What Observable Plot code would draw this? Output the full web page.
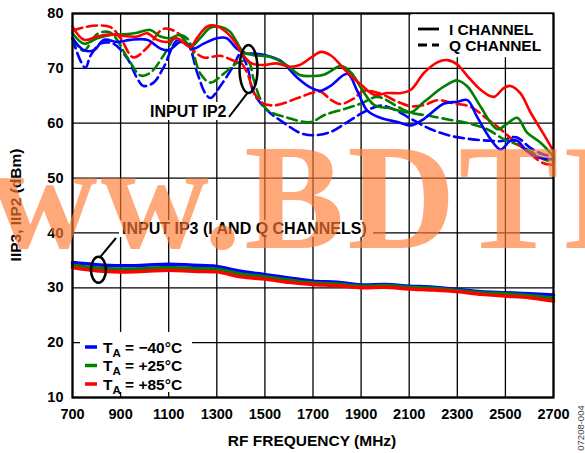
<!DOCTYPE html>
<html><head><meta charset="utf-8">
<script src="https://cdn.jsdelivr.net/npm/d3@7"></script>
<script src="https://cdn.jsdelivr.net/npm/@observablehq/plot@0.6"></script>
<style>
html,body{margin:0;padding:0;background:#fff;}
#chart{position:relative;width:585px;height:453px;overflow:hidden;}
</style></head><body><div id="chart"></div>
<script>
const xTicks = [700, 900, 1100, 1300, 1500, 1700, 1900, 2100, 2300, 2500, 2700];
const yTicks = [10, 20, 30, 40, 50, 60, 70, 80];
const temps = ["-40", "+25", "+85"];
const tempColors = ["#0000ff", "#008000", "#ff0000"];
const legendTemps = ["\u221240\u00b0C", "+25\u00b0C", "+85\u00b0C"];

// IIP3 (I and Q channels)
const ip3Freq = [700,800,900,1000,1100,1200,1300,1400,1500,1600,1700,1800,1900,2000,2100,2200,2300,2400,2500,2600,2700];
const ip3M40 = [34.6,34.2,34.0,34.1,34.3,34.1,33.9,33.0,32.4,31.8,31.2,31.0,30.5,30.6,30.3,30.1,29.7,29.3,29.1,28.9,28.7];
const ip3P25 = [34.1,33.6,33.4,33.5,33.7,33.5,33.4,32.5,32.0,31.4,30.9,30.7,30.3,30.4,30.1,29.9,29.5,29.1,28.9,28.6,28.1];
const ip3P85 = [33.7,33.1,32.9,33.0,33.2,33.0,32.9,32.0,31.6,31.0,30.6,30.4,30.0,30.1,29.8,29.6,29.3,28.8,28.5,28.2,27.6];

// IIP2, I channel
const iM40Freq = [700,748,789,831,886,941,1010,1066,1100,1148,1176,1203,1245,1300,1341,1383,1420,1455,1510,1565,1635,1690,1731,1773,1843,1884,1926,1980,2052,2107,2162,2245,2300,2342,2383,2438,2480,2521,2549,2590,2645,2700];
const iM40 = [75.5,73.3,73.3,75.2,74.8,75.2,75.2,73.6,73.3,74.8,74.5,73.6,74.5,75.5,75.5,73.6,72.7,72.7,72.3,71.4,68.3,66.5,65.9,66.8,69.0,65.9,62.3,61.0,60.2,59.6,60.8,63.6,63.9,64.2,61.1,57.1,55.2,56.8,56.8,54.9,53.7,53.4];
const iP25Freq = [700,748,803,859,914,969,1024,1066,1107,1148,1190,1231,1272,1314,1355,1383,1410,1452,1521,1590,1645,1693,1748,1817,1859,1900,1955,2024,2107,2162,2245,2300,2342,2397,2466,2507,2549,2590,2645,2700];
const iP25 = [76.4,74.5,75.5,76.1,76.2,76.5,77.0,75.8,75.5,76.1,73.9,75.5,77.4,77.6,76.7,74.8,73.0,72.4,72.1,70.6,68.8,68.6,68.9,70.4,69.2,66.4,63.3,62.7,62.0,63.9,66.7,67.8,66.7,63.0,58.9,59.9,61.0,58.3,56.5,54.0];
const iP85Freq = [700,748,803,859,914,969,1010,1052,1093,1134,1190,1217,1259,1290,1328,1369,1410,1445,1493,1548,1603,1645,1693,1734,1776,1831,1900,1955,2010,2066,2107,2162,2217,2259,2300,2342,2397,2452,2493,2521,2562,2604,2659,2700];
const iP85 = [77.6,75.2,75.8,76.2,75.9,75.8,76.4,75.2,74.8,75.5,73.9,75.5,77.6,77.8,77.0,75.2,72.4,70.9,70.6,70.9,70.3,70.6,72.0,73.0,72.3,69.8,67.0,65.2,65.5,65.5,66.1,69.2,71.1,71.5,70.7,68.6,66.1,64.8,66.4,66.8,65.5,62.0,58.0,54.9];

// IIP2, Q channel
const qM40Freq = [700,733,754,775,816,870,928,970,995,1037,1078,1136,1178,1220,1253,1274,1315,1370,1399,1428,1453,1511,1578,1648,1702,1773,1843,1910,1983,2038,2107,2190,2272,2355,2438,2493,2521,2549,2604,2659,2700];
const qM40 = [75.4,71.4,70.1,72.3,74.5,74.5,71.8,68.1,66.8,67.4,70.1,75.1,74.5,69.0,65.4,64.6,66.8,70.5,72.7,70.1,65.6,62.3,60.1,58.2,57.8,58.4,60.2,62.0,63.2,62.5,60.8,58.9,57.7,57.1,56.8,56.8,57.4,57.4,55.5,54.3,54.0];
const qP25Freq = [700,746,804,858,928,983,1024,1078,1136,1178,1232,1274,1328,1386,1430,1453,1480,1510,1594,1690,1748,1831,1900,1969,2052,2107,2176,2272,2355,2424,2493,2549,2604,2659,2700];
const qP25 = [75.6,73.2,76.3,76.5,72.0,68.7,69.2,72.3,76.0,75.4,69.0,67.4,69.0,71.0,71.3,68.0,64.5,62.4,61.0,60.2,61.5,62.6,63.6,64.8,63.0,61.9,61.4,60.6,59.9,58.9,57.1,56.1,54.9,53.4,53.0];
const qP85Freq = [700,750,804,858,900,953,1011,1078,1136,1190,1245,1315,1370,1400,1430,1452,1493,1548,1631,1702,1735,1773,1814,1870,1910,1980,2052,2107,2162,2217,2286,2355,2424,2480,2535,2590,2659,2700];
const qP85 = [76.9,77.5,77.8,77.5,75.5,72.0,73.8,77.2,76.5,73.8,72.0,72.3,71.4,71.0,68.8,65.8,63.6,63.3,64.5,65.6,65.7,64.3,63.5,64.5,65.9,65.4,63.9,63.1,63.3,64.2,63.6,63.0,60.8,58.9,56.8,54.9,52.7,52.4];

function rows(freq, vals, temp) { return freq.map((f, i) => ({f, v: vals[i], temp})); }
const ip3Rows = [...rows(ip3Freq, ip3M40, "-40"), ...rows(ip3Freq, ip3P25, "+25"), ...rows(ip3Freq, ip3P85, "+85")];
const iRows = [...rows(iM40Freq, iM40, "-40"), ...rows(iP25Freq, iP25, "+25"), ...rows(iP85Freq, iP85, "+85")];
const qRows = [...rows(qM40Freq, qM40, "-40"), ...rows(qP25Freq, qP25, "+25"), ...rows(qP85Freq, qP85, "+85")];

const FONT = "'Liberation Sans', Arial, Helvetica, sans-serif";
const plot = Plot.plot({
  width: 585, height: 453,
  marginLeft: 72, marginRight: 32, marginTop: 13, marginBottom: 56,
  x: {domain: [700, 2700], ticks: xTicks, label: null, tickFormat: d => String(d)},
  y: {domain: [10, 80], ticks: yTicks, label: null},
  color: {domain: temps, range: tempColors},
  style: {fontFamily: FONT, fontWeight: "bold", fontSize: "14.5px", color: "#000", background: "#fff"},
  marks: [
    Plot.gridX(xTicks, {stroke: "#000", strokeOpacity: 1, strokeWidth: 1.3}),
    Plot.gridY(yTicks, {stroke: "#000", strokeOpacity: 1, strokeWidth: 1.3}),
    Plot.line(ip3Rows, {x: "f", y: "v", z: "temp", stroke: "temp", strokeWidth: 3.5, curve: "catmull-rom"}),
    Plot.line(qRows, {x: "f", y: "v", z: "temp", stroke: "temp", strokeWidth: 2.6, strokeDasharray: "10,5", curve: "catmull-rom"}),
    Plot.line(iRows, {x: "f", y: "v", z: "temp", stroke: "temp", strokeWidth: 2.6, curve: "catmull-rom"}),
    Plot.frame({stroke: "#000", strokeWidth: 2.2}),
    Plot.axisX(xTicks, {tickSize: 0, tickPadding: 11, fontSize: 14.5, tickFormat: d => String(d)}),
    Plot.axisY(yTicks, {tickSize: 0, tickPadding: 9, fontSize: 14.5})
  ]
});
document.getElementById("chart").appendChild(plot);

const svg = d3.select(plot);
const sx = plot.scale("x"), sy = plot.scale("y");
const g = svg.append("g").attr("font-family", FONT).attr("font-weight", "bold").attr("fill", "#000").attr("text-anchor", "start");

// titles
g.append("text").attr("x", 312).attr("y", 446).attr("text-anchor", "middle").attr("font-size", 15.5).text("RF FREQUENCY (MHz)");
g.append("text").attr("transform", "translate(21,205) rotate(-90)").attr("text-anchor", "middle").attr("font-size", 15.5).text("IIP3, IIP2 (dBm)");
g.append("text").attr("transform", "translate(584,428) rotate(-90)").attr("text-anchor", "middle").attr("font-size", 9.5).attr("font-weight", "normal").attr("fill", "#444").text("07208-004");

// annotation: INPUT IP2
const e2x = sx.apply(1434), e2y = sy.apply(69.8);
g.append("rect").attr("x", 147).attr("y", 102).attr("width", 84).attr("height", 18).attr("fill", "#fff");
g.append("text").attr("x", 150).attr("y", 117).attr("font-size", 16).text("INPUT IP2");
g.append("line").attr("x1", 229).attr("y1", 117).attr("x2", e2x - 1).attr("y2", e2y + 24).attr("stroke", "#000").attr("stroke-width", 2);
g.append("ellipse").attr("cx", e2x).attr("cy", e2y).attr("rx", 9).attr("ry", 24).attr("fill", "none").attr("stroke", "#000").attr("stroke-width", 2.5);

// annotation: INPUT IP3
const e3x = sx.apply(810), e3y = sy.apply(33.2);
g.append("rect").attr("x", 119).attr("y", 220).attr("width", 254).attr("height", 17).attr("fill", "#fff");
g.append("text").attr("x", 122).attr("y", 234).attr("font-size", 16).text("INPUT IP3 (I AND Q CHANNELS)");
g.append("line").attr("x1", 116).attr("y1", 238).attr("x2", e3x + 2).attr("y2", e3y - 13).attr("stroke", "#000").attr("stroke-width", 2);
g.append("ellipse").attr("cx", e3x).attr("cy", e3y).attr("rx", 7.5).attr("ry", 13).attr("fill", "none").attr("stroke", "#000").attr("stroke-width", 2.5);

// legend: channel (top right)
g.append("rect").attr("x", 411).attr("y", 14.2).attr("width", 141).attr("height", 43).attr("fill", "#fff");
const chan = [{label: "I CHANNEL", dash: null, y: 29}, {label: "Q CHANNEL", dash: "9,5", y: 45}];
chan.forEach(c => {
  g.append("line").attr("x1", 418).attr("x2", 439).attr("y1", c.y).attr("y2", c.y).attr("stroke", "#000").attr("stroke-width", 2.8).attr("stroke-dasharray", c.dash);
  g.append("text").attr("x", 449).attr("y", c.y + 5.5).attr("font-size", 15.5).text(c.label);
});

// legend: temperature (bottom left)
g.append("rect").attr("x", 80).attr("y", 332).attr("width", 112).attr("height", 60).attr("fill", "#fff");
legendTemps.forEach((t, i) => {
  const y = 347 + i * 18.5;
  g.append("line").attr("x1", 85).attr("x2", 97).attr("y1", y).attr("y2", y).attr("stroke", tempColors[i]).attr("stroke-width", 3.5);
  const tx = g.append("text").attr("x", 103).attr("y", y + 5.5).attr("font-size", 15.5);
  tx.append("tspan").text("T");
  tx.append("tspan").attr("font-size", 11.5).attr("dy", 4).text("A");
  tx.append("tspan").attr("dy", -4).text(" = " + t);
});

// watermark overlay
svg.append("text").attr("x", -122).attr("y", 248).attr("text-anchor", "start").attr("font-family", "'Liberation Serif', 'Times New Roman', serif")
  .attr("font-size", 150).attr("letter-spacing", 3).attr("fill", "#ff7a33").attr("fill-opacity", 0.65).text("www.BDTI");
</script></body></html>
